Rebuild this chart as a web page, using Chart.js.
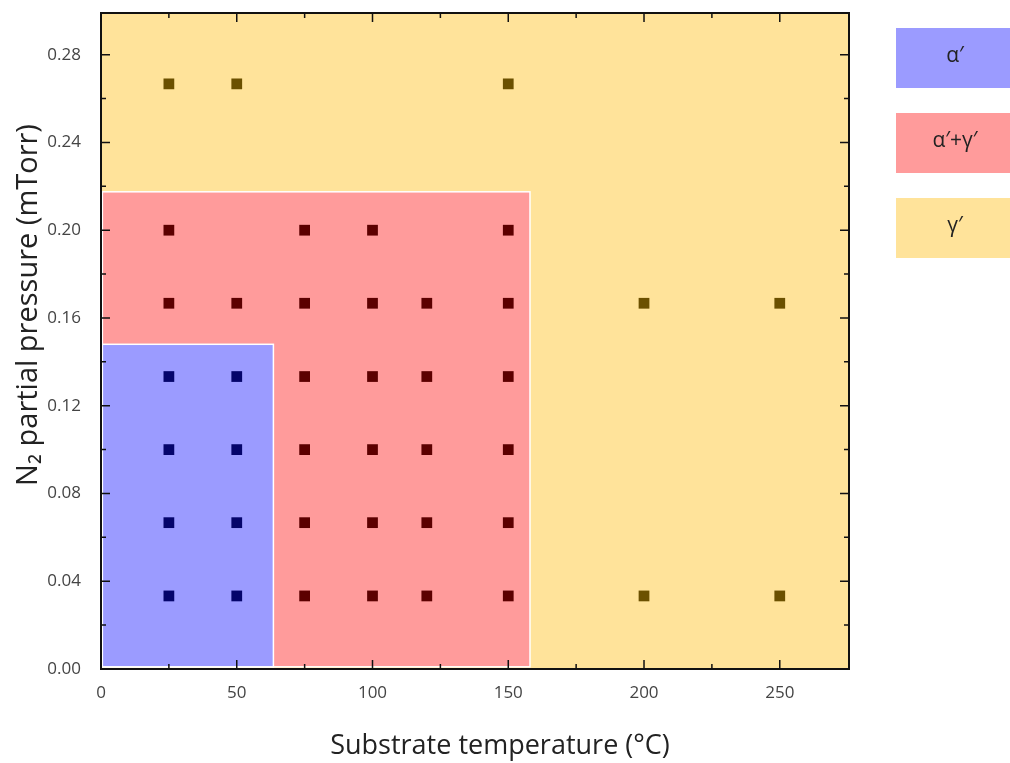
<!DOCTYPE html>
<html>
<head>
<meta charset="utf-8">
<script src="https://cdn.jsdelivr.net/npm/chart.js@4.4.1/dist/chart.umd.min.js"></script>
<style>
  html, body { margin: 0; padding: 0; background: #fff; }
  #wrap { width: 1010px; height: 763px; position: relative; }
</style>
</head>
<body>
<div id="wrap"><canvas id="fases"></canvas></div>
<script>
// Diagrama de fases: temperatura del sustrato vs presión parcial de N2

var xTicks = [0, 50, 100, 150, 200, 250];
var xMinor = [25, 75, 125, 175, 225];
var yTicks = [0, 0.04, 0.08, 0.12, 0.16, 0.20, 0.24, 0.28];
var yMinor = [0.02, 0.06, 0.10, 0.14, 0.18, 0.22, 0.26];

// puntos medidos por fase
var alfaX = [25, 50, 25, 50, 25, 50, 25, 50];
var alfaY = [0.1333, 0.1333, 0.1, 0.1, 0.0667, 0.0667, 0.0333, 0.0333];

var mezclaX = [25, 75, 100, 150,
               25, 50, 75, 100, 120, 150,
               75, 100, 120, 150,
               75, 100, 120, 150,
               75, 100, 120, 150,
               75, 100, 120, 150];
var mezclaY = [0.2, 0.2, 0.2, 0.2,
               0.1667, 0.1667, 0.1667, 0.1667, 0.1667, 0.1667,
               0.1333, 0.1333, 0.1333, 0.1333,
               0.1, 0.1, 0.1, 0.1,
               0.0667, 0.0667, 0.0667, 0.0667,
               0.0333, 0.0333, 0.0333, 0.0333];

var gammaX = [25, 50, 150, 200, 250, 200, 250];
var gammaY = [0.2667, 0.2667, 0.2667, 0.1667, 0.1667, 0.0333, 0.0333];

// límites de cada región [xMin, xMax, yMin, yMax]
var regionGamma = [0, 275.5, 0, 0.299];
var regionMezcla = [0.5, 158, 0.001, 0.2175];
var regionAlfa = [0.5, 63.5, 0.001, 0.148];

var leyenda = ["\u03B1\u2032", "\u03B1\u2032+\u03B3\u2032", "\u03B3\u2032"];
var coloresRegion = ['#9b9bff', '#ff9b9b', '#ffe39a'];
var coloresPunto = ['#05056b', '#5c0000', '#6b5000'];

var tituloX = 'Substrate temperature (\u00B0C)';
var tituloY = 'N\u2082 partial pressure (mTorr)';

function puntos(xs, ys) {
  return xs.map(function (x, i) { return { x: x, y: ys[i] }; });
}

var fuente = "'Open Sans', sans-serif";

var regiones = {
  id: 'regiones',
  beforeDatasetsDraw: function (chart) {
    var ctx = chart.ctx, sx = chart.scales.x, sy = chart.scales.y;
    var lista = [[regionGamma, coloresRegion[2], false],
                 [regionMezcla, coloresRegion[1], true],
                 [regionAlfa, coloresRegion[0], true]];
    ctx.save();
    lista.forEach(function (r) {
      var b = r[0];
      var x1 = sx.getPixelForValue(b[0]), x2 = sx.getPixelForValue(b[1]);
      var y1 = sy.getPixelForValue(b[3]), y2 = sy.getPixelForValue(b[2]);
      ctx.fillStyle = r[1];
      ctx.fillRect(x1, y1, x2 - x1, y2 - y1);
      if (r[2]) {
        ctx.strokeStyle = '#ffffff';
        ctx.lineWidth = 1.5;
        ctx.strokeRect(x1, y1, x2 - x1, y2 - y1);
      }
    });
    ctx.restore();
  },
  afterDraw: function (chart) {
    var ctx = chart.ctx, sx = chart.scales.x, sy = chart.scales.y;
    var a = chart.chartArea;
    ctx.save();
    ctx.strokeStyle = '#111';
    ctx.lineWidth = 2;
    ctx.strokeRect(a.left, a.top, a.right - a.left, a.bottom - a.top);
    // marcas hacia adentro en los cuatro lados
    ctx.lineWidth = 1.5;
    function marcaX(v, largo) {
      var p = sx.getPixelForValue(v);
      ctx.beginPath();
      ctx.moveTo(p, a.bottom); ctx.lineTo(p, a.bottom - largo);
      ctx.moveTo(p, a.top); ctx.lineTo(p, a.top + largo);
      ctx.stroke();
    }
    function marcaY(v, largo) {
      var p = sy.getPixelForValue(v);
      ctx.beginPath();
      ctx.moveTo(a.left, p); ctx.lineTo(a.left + largo, p);
      ctx.moveTo(a.right, p); ctx.lineTo(a.right - largo, p);
      ctx.stroke();
    }
    xTicks.forEach(function (v) { marcaX(v, 9); });
    xMinor.forEach(function (v) { marcaX(v, 5); });
    yTicks.forEach(function (v) { marcaY(v, 9); });
    yMinor.forEach(function (v) { marcaY(v, 5); });

    // títulos de los ejes
    ctx.fillStyle = '#222';
    ctx.textAlign = 'center';
    ctx.textBaseline = 'alphabetic';
    ctx.font = '27px ' + fuente;
    ctx.fillText(tituloX, 500, 754);
    ctx.save();
    ctx.translate(37, 305);
    ctx.rotate(-Math.PI / 2);
    ctx.font = '29px ' + fuente;
    ctx.fillText(tituloY, 0, 0);
    ctx.restore();

    // leyenda
    var tops = [28, 113, 198];
    ctx.font = '21px ' + fuente;
    ctx.textAlign = 'center';
    ctx.textBaseline = 'middle';
    leyenda.forEach(function (t, i) {
      ctx.fillStyle = coloresRegion[i];
      ctx.fillRect(896, tops[i], 120, 60);
      ctx.fillStyle = '#222';
      ctx.fillText(t, 955, tops[i] + 28);
    });
    ctx.restore();
  }
};

var grafica = new Chart(document.getElementById('fases').getContext('2d'), {
  type: 'scatter',
  data: {
    datasets: [
      { label: leyenda[0], data: puntos(alfaX, alfaY), backgroundColor: coloresPunto[0], borderWidth: 0 },
      { label: leyenda[1], data: puntos(mezclaX, mezclaY), backgroundColor: coloresPunto[1], borderWidth: 0 },
      { label: leyenda[2], data: puntos(gammaX, gammaY), backgroundColor: coloresPunto[2], borderWidth: 0 }
    ]
  },
  options: {
    responsive: true,
    maintainAspectRatio: false,
    animation: false,
    layout: { padding: { top: 13, right: 161, left: 0, bottom: 0 } },
    elements: { point: { pointStyle: 'rect', radius: 7.6, hoverRadius: 7.6 } },
    plugins: { legend: { display: false }, tooltip: { enabled: false } },
    scales: {
      x: {
        type: 'linear',
        min: regionGamma[0],
        max: regionGamma[1],
        grid: { display: false },
        border: { display: false },
        afterBuildTicks: function (s) { s.ticks = xTicks.map(function (v) { return { value: v }; }); },
        afterFit: function (s) { s.height = 94; s.paddingLeft = 0; s.paddingRight = 0; },
        ticks: { padding: 6, color: '#444', font: { family: fuente, size: 17 } }
      },
      y: {
        type: 'linear',
        min: regionGamma[2],
        max: regionGamma[3],
        grid: { display: false },
        border: { display: false },
        afterBuildTicks: function (s) { s.ticks = yTicks.map(function (v) { return { value: v }; }); },
        afterFit: function (s) { s.width = 101; s.paddingTop = 0; s.paddingBottom = 0; },
        ticks: { padding: 12, color: '#444', font: { family: fuente, size: 17 },
                 callback: function (v) { return v.toFixed(2); } }
      }
    }
  },
  plugins: [regiones]
});
</script>
</body>
</html>
